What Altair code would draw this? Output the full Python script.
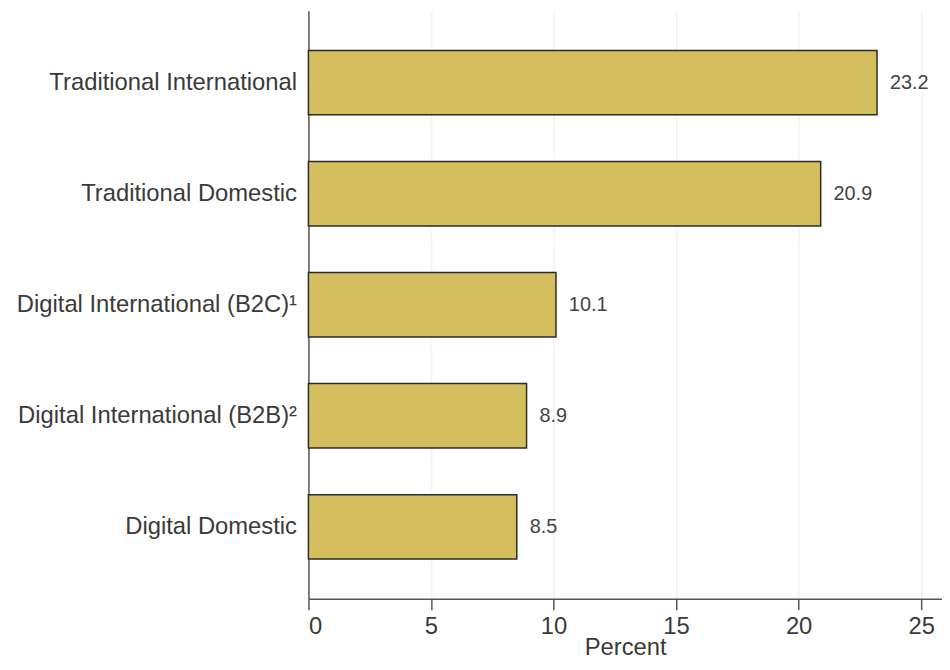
import altair as alt
import pandas as pd

categories = [
    "Traditional International",
    "Traditional Domestic",
    "Digital International (B2C)¹",
    "Digital International (B2B)²",
    "Digital Domestic",
]
values = [23.2, 20.9, 10.1, 8.9, 8.5]
labels = ["23.2", "20.9", "10.1", "8.9", "8.5"]
x_ticks = [0, 5, 10, 15, 20, 25]

df = pd.DataFrame({"category": categories, "value": values, "label": labels})

FONT = "Liberation Sans"

x = alt.X(
    "value:Q",
    scale=alt.Scale(domain=[0, 25.85], nice=False, zero=True),
    axis=alt.Axis(
        title="Percent",
        values=x_ticks,
        grid=True,
        gridColor="#ececec",
        gridWidth=1,
        domainColor="#555555",
        domainWidth=1.5,
        tickColor="#555555",
        tickWidth=1.5,
        tickSize=11,
        labelPadding=5,
        labelFont=FONT,
        labelFontSize=24,
        labelColor="#3a3a3a",
        titleFont=FONT,
        titleFontSize=24,
        titleFontWeight="normal",
        titleColor="#3a3a3a",
        titlePadding=-3,
    ),
)
y = alt.Y(
    "category:N",
    sort=categories,
    scale=alt.Scale(paddingInner=0.42, paddingOuter=0.357),
    axis=alt.Axis(
        title=None,
        ticks=False,
        grid=False,
        domainColor="#555555",
        domainWidth=1.5,
        labelPadding=12,
        labelFont=FONT,
        labelFontSize=24,
        labelColor="#3a3a3a",
        labelLimit=400,
    ),
)

bars = alt.Chart(df).mark_bar(
    color="#d5be5e", stroke="#2b2b2b", strokeWidth=1.5
).encode(x=x, y=y)

text = alt.Chart(df).mark_text(
    align="left", baseline="middle", dx=13, font=FONT, fontSize=20, color="#444444"
).encode(x="value:Q", y=alt.Y("category:N", sort=categories), text="label:N")

chart = (
    alt.layer(bars, text)
    .properties(
        width=639,
        height=593,
        autosize=alt.AutoSizeParams(type="none"),
        padding={"left": 303, "top": 0, "right": 0, "bottom": 61},
        background="white",
    )
    .configure_view(stroke=None)
)

chart.save("out.html", embed_options={"renderer": "svg", "actions": False})
